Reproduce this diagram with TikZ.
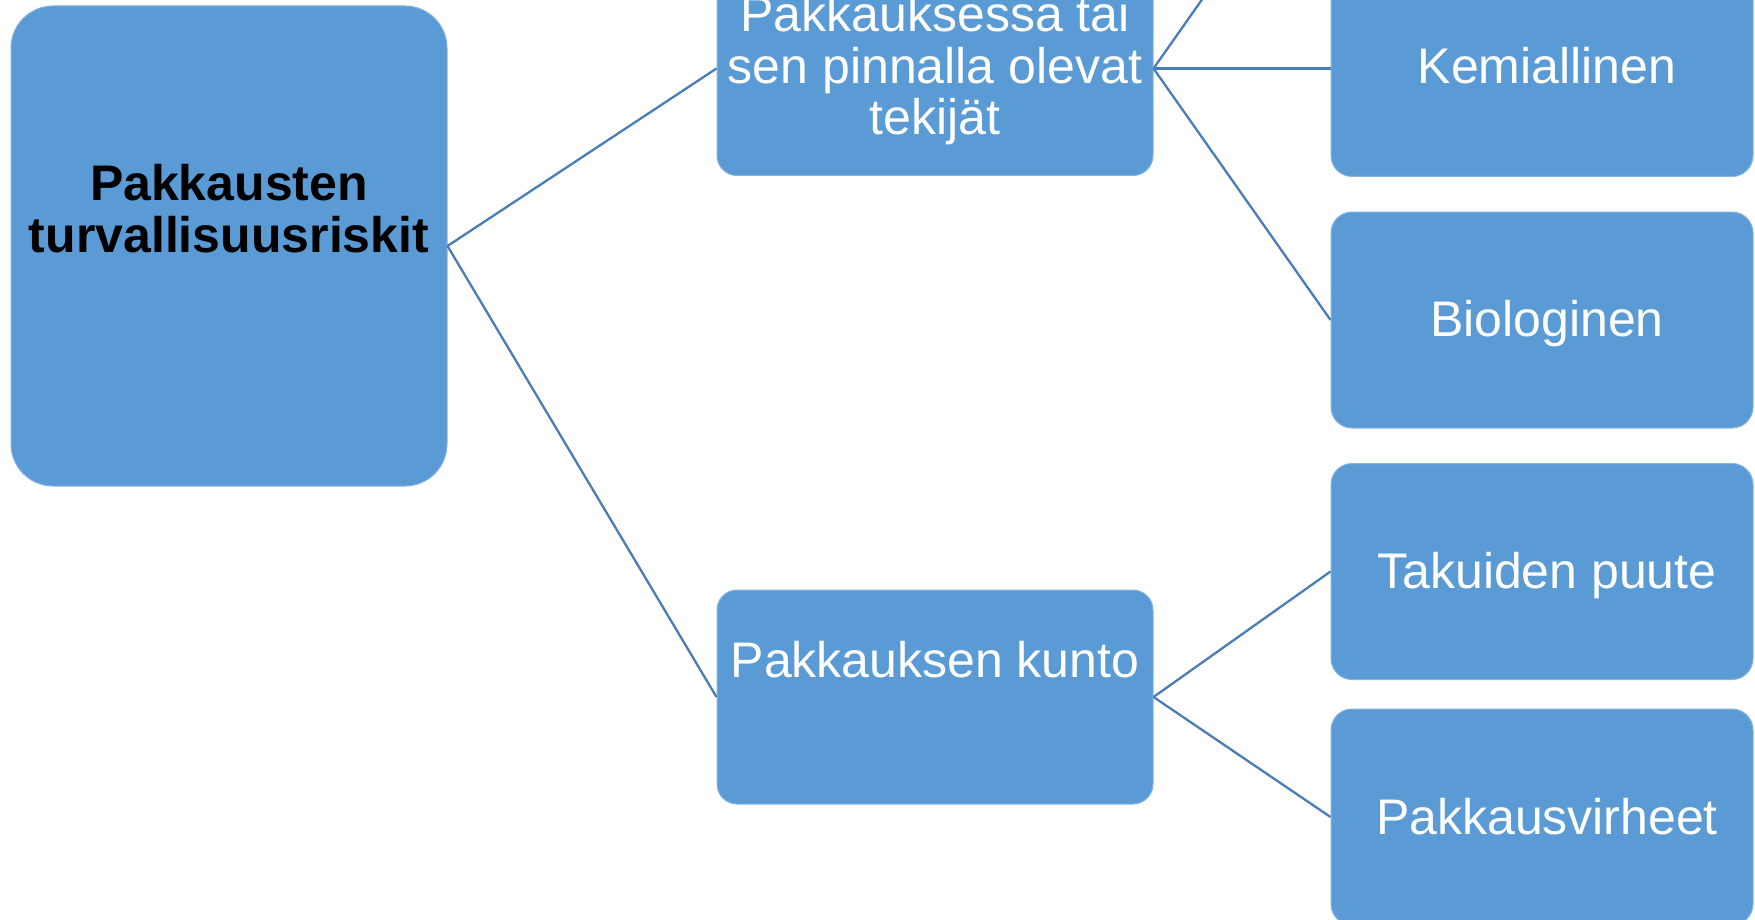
\documentclass[tikz,border=0pt]{standalone}
\usepackage{fontspec}
\setmainfont{Liberation Sans}
\definecolor{boxfill}{HTML}{5B9BD5}
\definecolor{boxedge}{HTML}{86B3E0}
\definecolor{linkcol}{HTML}{4A7DB6}
\begin{document}
\begin{tikzpicture}[x=1pt,y=-1pt,
  box/.style={rectangle,fill=boxfill,draw=boxedge,line width=1pt,inner sep=0pt},
  rootbox/.style={box,rounded corners=42pt,minimum width=436pt,minimum height=480pt},
  midbox/.style={box,rounded corners=20pt,minimum width=436pt,minimum height=214pt},
  leafbox/.style={box,rounded corners=21pt,minimum width=422pt,minimum height=216pt},
  lbl/.style={inner sep=0pt,anchor=base,align=center,text=white,font=\fontsize{50}{51.5}\selectfont},
  rootlbl/.style={lbl,text=black,font=\fontsize{50}{52}\selectfont\bfseries},
  link/.style={draw=linkcol,line width=2.3pt}]
\useasboundingbox (0,0) rectangle (1755,920);
\clip (0,0) rectangle (1755,920);
\fill[white] (0,0) rectangle (1755,920);
% boxes
\node[rootbox] (root) at (229,246) {};
\node[midbox] (mid1) at (935,68.5) {};
\node[midbox] (mid2) at (935,697) {};
\node[leafbox] (kem) at (1542,68.5) {};
\node[leafbox] (bio) at (1542,320) {};
\node[leafbox] (tak) at (1542,571.5) {};
\node[leafbox] (pak) at (1542,817) {};
\coordinate (hidden) at (1331,-184);
% labels (anchor base = baseline of the last line)
\node[rootlbl] (roott) at (229,252) {Pakkausten\\turvallisuusriskit};
\node[lbl] (mid1t) at (935,135) {Pakkauksessa tai\\sen pinnalla olevat\\tekijät};
\node[lbl] (mid2t) at (935,677) {Pakkauksen kunto};
\node[lbl] (kemt) at (1547,84) {Kemiallinen};
\node[lbl] (biot) at (1547,336) {Biologinen};
\node[lbl] (takt) at (1547,588) {Takuiden puute};
\node[lbl] (pakt) at (1547,834) {Pakkausvirheet};
% connectors
\draw[link] (root.east) -- (mid1.west);
\draw[link] (root.east) -- (mid2.west);
\draw[link] (mid1.east) -- (hidden);
\draw[link] (mid1.east) -- (kem.west);
\draw[link] (mid1.east) -- (bio.west);
\draw[link] (mid2.east) -- (tak.west);
\draw[link] (mid2.east) -- (pak.west);
\end{tikzpicture}
\end{document}
